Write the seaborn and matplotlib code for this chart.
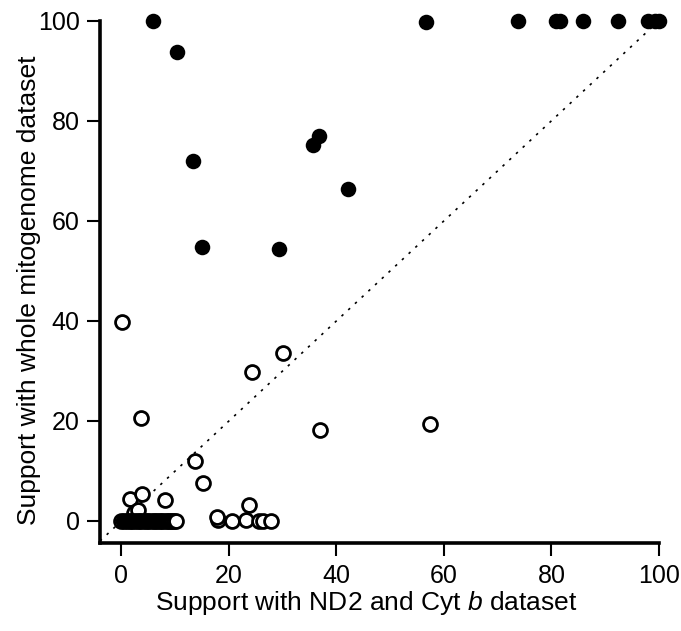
import matplotlib
matplotlib.use("Agg")
import matplotlib.pyplot as plt
import seaborn as sns
import pandas as pd

# Nodes supported in both datasets (filled) and weakly supported nodes (open)
filled_x = [5.9, 10.4, 13.3, 56.7, 36.8, 35.6, 42.2, 14.9, 29.3,
            73.7, 80.9, 81.6, 85.9, 92.3, 98.0, 99.2, 100.0,
            0.3, 1.0, 1.8, 2.6, 3.4, 4.2, 5.0, 5.8, 6.6]
filled_y = [100, 93.8, 72.0, 99.8, 77.0, 75.1, 66.4, 54.8, 54.4,
            100, 100, 100, 100, 100, 100, 100, 100,
            0.0, 0.0, 0.0, 0.0, 0.0, 0.0, 0.0, 0.0, 0.0]

open_x = [0.1, 30.1, 24.2, 37.0, 57.4, 3.6, 13.7, 15.1, 1.5, 3.8, 8.1,
          2.3, 3.0, 18.0, 17.8, 20.6, 23.1, 23.7, 25.6, 26.3, 27.9,
          0.0, 0.5, 1.0, 1.5, 2.0, 2.5, 3.0, 3.5, 4.0, 4.5, 5.0, 5.5,
          6.0, 6.5, 7.0, 7.4, 7.8, 8.2, 8.6, 9.0, 9.4, 9.8, 10.1]
open_y = [39.8, 33.5, 29.7, 18.2, 19.4, 20.6, 12.0, 7.5, 4.3, 5.3, 4.2,
          1.5, 2.2, 0.1, 0.7, 0.0, 0.2, 3.2, 0.0, 0.0, 0.0,
          0.0, 0.0, 0.0, 0.0, 0.0, 0.0, 0.0, 0.0, 0.0, 0.0, 0.0, 0.0,
          0.0, 0.0, 0.0, 0.0, 0.0, 0.0, 0.0, 0.0, 0.0, 0.0, 0.0]

x_ticks = [0, 20, 40, 60, 80, 100]
y_ticks = [0, 20, 40, 60, 80, 100]

sns.set_style("ticks")
plt.rcParams["font.family"] = ["Liberation Sans", "DejaVu Sans"]
plt.rcParams["mathtext.fontset"] = "custom"
plt.rcParams["mathtext.rm"] = "Liberation Sans"
plt.rcParams["mathtext.it"] = "Liberation Sans:italic"
plt.rcParams["text.color"] = "black"
plt.rcParams["axes.labelcolor"] = "black"
plt.rcParams["xtick.color"] = "black"
plt.rcParams["ytick.color"] = "black"

filled_df = pd.DataFrame({"nd2_cytb": filled_x, "mitogenome": filled_y})
open_df = pd.DataFrame({"nd2_cytb": open_x, "mitogenome": open_y})

fig = plt.figure(figsize=(6.81, 6.31), dpi=100)
ax = fig.add_axes([0.1468, 0.1387, 0.8209, 0.8285])

ax.axline((0, 0), slope=1, color="black", linestyle=(0, (1.5, 4)), lw=1.2, zorder=1)

sns.scatterplot(data=open_df, x="nd2_cytb", y="mitogenome", ax=ax,
                marker="o", s=100, facecolor="white", edgecolor="black",
                linewidth=2.0, clip_on=False, zorder=3)
sns.scatterplot(data=filled_df, x="nd2_cytb", y="mitogenome", ax=ax,
                marker="o", s=125, color="black", edgecolor="black",
                linewidth=0, clip_on=False, zorder=4)

ax.set_xlim(-4.0, 100)
ax.set_ylim(-4.5, 100)
ax.set_xticks(x_ticks)
ax.set_yticks(y_ticks)
ax.tick_params(labelsize=18, length=9.5, width=1.5, color="black",
               labelcolor="black", pad=5)
for side in ["top", "right"]:
    ax.spines[side].set_visible(False)
for side in ["left", "bottom"]:
    ax.spines[side].set_linewidth(2.6)
    ax.spines[side].set_color("black")

ax.set_xlabel("Support with ND2 and Cyt $\\it{b}$ dataset", fontsize=19)
ax.set_ylabel("Support with whole mitogenome dataset", fontsize=19)
ax.xaxis.set_label_coords(0.476, -0.088)
ax.yaxis.set_label_coords(-0.106, 0.485)

fig.savefig("out.png", dpi=100)
